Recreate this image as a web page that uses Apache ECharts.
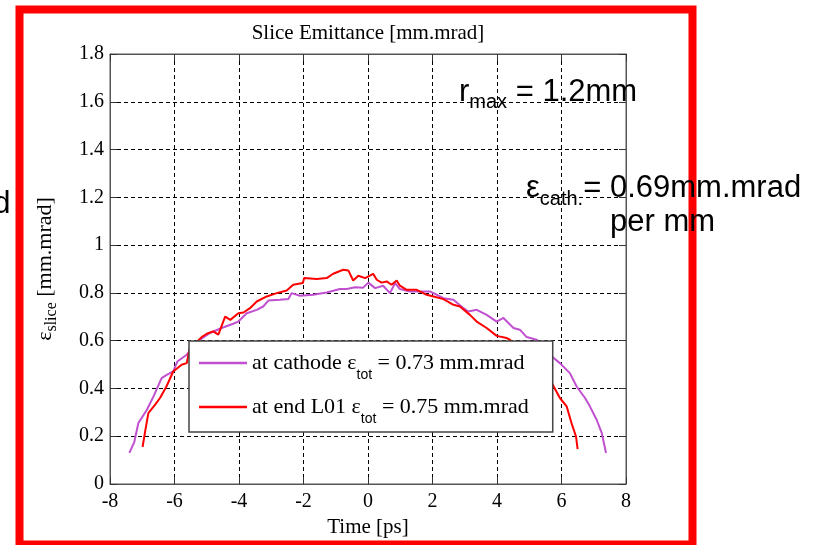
<!DOCTYPE html>
<html>
<head>
<meta charset="utf-8">
<script src="https://cdn.jsdelivr.net/npm/echarts@6/dist/echarts.min.js"></script>
<style>
  html, body { margin: 0; padding: 0; background: #fff; }
  #chart { width: 822px; height: 545px; }
</style>
</head>
<body>
<div id="chart"></div>
<script>
// Slice emittance along the bunch, at the cathode and at the end of L01
const cathodeTime = [-7.40, -7.25, -7.12, -6.86, -6.65, -6.40, -6.24, -6.04, -5.91, -5.62,
  -5.21, -4.90, -4.54, -4.18, -4.02, -3.76, -3.45, -3.25, -3.09, -2.73, -2.47, -2.37, -2.11,
  -1.70, -1.28, -0.87, -0.66, -0.40, -0.15, 0.01, 0.22, 0.47, 0.68, 0.84, 0.99, 1.30, 1.92,
  2.34, 2.65, 2.96, 3.11, 3.37, 3.68, 3.99, 4.20, 4.51, 4.71, 4.92, 5.23, 5.70, 5.95, 6.26,
  6.47, 6.73, 6.88, 7.09, 7.25, 7.38];
const cathodeEmit = [0.130, 0.174, 0.255, 0.310, 0.367, 0.443, 0.457, 0.471, 0.513, 0.541,
  0.604, 0.632, 0.653, 0.671, 0.680, 0.715, 0.729, 0.743, 0.768, 0.771, 0.774, 0.799, 0.788,
  0.792, 0.802, 0.816, 0.816, 0.824, 0.822, 0.843, 0.820, 0.830, 0.799, 0.841, 0.816, 0.806, 0.806,
  0.778, 0.771, 0.736, 0.722, 0.729, 0.708, 0.680, 0.695, 0.653, 0.646, 0.615, 0.604, 0.534, 0.506, 0.464,
  0.408, 0.360, 0.325, 0.269, 0.213, 0.130];

const l01Time = [-6.99, -6.91, -6.81, -6.60, -6.45, -6.25, -6.04, -5.78, -5.62, -5.54,
  -5.16, -5.00, -4.80, -4.64, -4.43, -4.27, -4.02, -3.86, -3.66, -3.45, -3.14, -2.83, -2.52,
  -2.32, -2.02, -1.98, -1.59, -1.28, -1.08, -0.77, -0.61, -0.46, -0.30, -0.09, 0.06, 0.16,
  0.27, 0.42, 0.58, 0.73, 0.89, 0.99, 1.20, 1.51, 1.82, 2.03, 2.34, 2.65, 2.85, 3.16, 3.37,
  3.68, 3.99, 4.30, 4.40, 5.70, 5.95, 6.16, 6.31, 6.45, 6.50];
const l01Emit = [0.155, 0.220, 0.297, 0.332, 0.360, 0.408, 0.471, 0.499, 0.506, 0.562,
  0.615, 0.629, 0.639, 0.625, 0.701, 0.687, 0.715, 0.718, 0.736, 0.764, 0.785, 0.799, 0.810,
  0.834, 0.841, 0.862, 0.858, 0.862, 0.880, 0.897, 0.894, 0.852, 0.872, 0.862, 0.872, 0.880,
  0.855, 0.843, 0.848, 0.834, 0.852, 0.830, 0.813, 0.813, 0.792, 0.785, 0.774, 0.750, 0.743, 0.708, 0.680,
  0.653, 0.620, 0.611, 0.604, 0.423, 0.360, 0.325, 0.255, 0.199, 0.146];

const seriesNames = ['at cathode', 'at end L01'];
const totalEmittance = ['0.73', '0.75'];
const xTicks = { min: -8, max: 8, step: 2 };
const yTicks = { min: 0, max: 1.8, step: 0.2 };

const SERIF = "'Liberation Serif', 'Times New Roman', serif";
const SANS = "'Liberation Sans', Arial, sans-serif";

const pairs = (xs, ys) => xs.map((x, i) => [x, ys[i]]);

const chart = echarts.init(document.getElementById('chart'), null, { renderer: 'canvas' });

const gridLine = { show: true, lineStyle: { type: [4, 3], color: '#000', width: 1 } };
const innerTick = { show: true, inside: true, length: 7, lineStyle: { color: '#333', width: 1 } };
const boxLine = { show: true, onZero: false, lineStyle: { color: '#555', width: 1 } };

chart.setOption({
  animation: false,
  backgroundColor: '#fff',
  grid: { left: 110, top: 54, width: 516, height: 430, show: true, borderColor: '#555', borderWidth: 1, containLabel: false },
  xAxis: [{
    type: 'value', min: xTicks.min, max: xTicks.max, interval: xTicks.step,
    axisLine: boxLine, axisTick: innerTick, splitLine: gridLine,
    axisLabel: { fontFamily: SERIF, fontSize: 20, color: '#000', margin: 8 },
    name: 'Time [ps]', nameLocation: 'middle', nameGap: 30,
    nameTextStyle: { fontFamily: SERIF, fontSize: 21, color: '#000' }
  }, {
    type: 'value', position: 'top', min: xTicks.min, max: xTicks.max, interval: xTicks.step,
    axisLine: boxLine, axisTick: innerTick, splitLine: { show: false }, axisLabel: { show: false }
  }],
  yAxis: [{
    type: 'value', min: yTicks.min, max: yTicks.max, interval: yTicks.step,
    axisLine: boxLine, axisTick: innerTick, splitLine: gridLine,
    axisLabel: { fontFamily: SERIF, fontSize: 20, color: '#000', margin: 6 },
    name: '{m|ε}{s|slice}{m| [mm.mrad]}', nameLocation: 'middle', nameGap: 50,
    nameTextStyle: {
      color: '#000',
      rich: {
        m: { fontFamily: SERIF, fontSize: 22, color: '#000' },
        s: { fontFamily: SERIF, fontSize: 16, color: '#000', padding: [14, 0, 0, 0] }
      }
    }
  }, {
    type: 'value', position: 'right', min: yTicks.min, max: yTicks.max, interval: yTicks.step,
    axisLine: boxLine, axisTick: innerTick, splitLine: { show: false }, axisLabel: { show: false }
  }],
  legend: {
    orient: 'vertical', left: 189, top: 341,
    backgroundColor: '#fff', borderColor: '#444', borderWidth: 1.5,
    padding: [11, 24, 6, 10], itemGap: 14,
    itemWidth: 48, itemHeight: 2.5, icon: 'rect',
    data: seriesNames,
    formatter: name => {
      const i = seriesNames.indexOf(name);
      return '{m|' + name + ' ε}{s|tot}{m| = ' + totalEmittance[i] + ' mm.mrad}';
    },
    textStyle: {
      color: '#000',
      rich: {
        m: { fontFamily: SERIF, fontSize: 22, color: '#000' },
        s: { fontFamily: SANS, fontSize: 14, color: '#000', padding: [24, 0, 0, 0] }
      }
    }
  },
  series: [{
    name: seriesNames[0], type: 'line', data: pairs(cathodeTime, cathodeEmit),
    symbol: 'none', showSymbol: false, color: '#C050D0',
    lineStyle: { color: '#C050D0', width: 2 }
  }, {
    name: seriesNames[1], type: 'line', data: pairs(l01Time, l01Emit),
    symbol: 'none', showSymbol: false, color: '#FF0000',
    lineStyle: { color: '#FF0000', width: 2 }
  }],
  graphic: [
    {
      type: 'rect', silent: true, z: 100,
      shape: { x: 19.5, y: 9.5, width: 673, height: 535 },
      style: { fill: 'none', stroke: '#FF0000', lineWidth: 8 }
    },
    {
      type: 'text', x: 368, y: 33.7, z: 100,
      style: { text: 'Slice Emittance [mm.mrad]', font: '21px ' + SERIF, fill: '#000', align: 'center', verticalAlign: 'middle' }
    },
    {
      type: 'text', x: 459, y: 92.3, z: 100,
      style: {
        text: '{a|r}{s|max}{a| = 1.2mm}', align: 'left', verticalAlign: 'middle',
        rich: {
          a: { fontFamily: SANS, fontSize: 31, fill: '#000' },
          s: { fontFamily: SANS, fontSize: 20, fill: '#000', padding: [21, 0, 0, 0] }
        }
      }
    },
    {
      type: 'text', x: 526, y: 188.3, z: 100,
      style: {
        text: '{a|ε}{s|cath.}{a|= 0.69mm.mrad}', align: 'left', verticalAlign: 'middle',
        rich: {
          a: { fontFamily: SANS, fontSize: 31, fill: '#000' },
          s: { fontFamily: SANS, fontSize: 20, fill: '#000', padding: [23, 0, 0, 0] }
        }
      }
    },
    {
      type: 'text', x: 610, y: 222.3, z: 100,
      style: { text: 'per mm', font: '31px ' + SANS, fill: '#000', align: 'left', verticalAlign: 'middle' }
    },
    {
      type: 'text', x: 10.5, y: 204.3, z: 100,
      style: { text: 'd', font: '31px ' + SANS, fill: '#000', align: 'right', verticalAlign: 'middle' }
    }
  ]
});
</script>
</body>
</html>
